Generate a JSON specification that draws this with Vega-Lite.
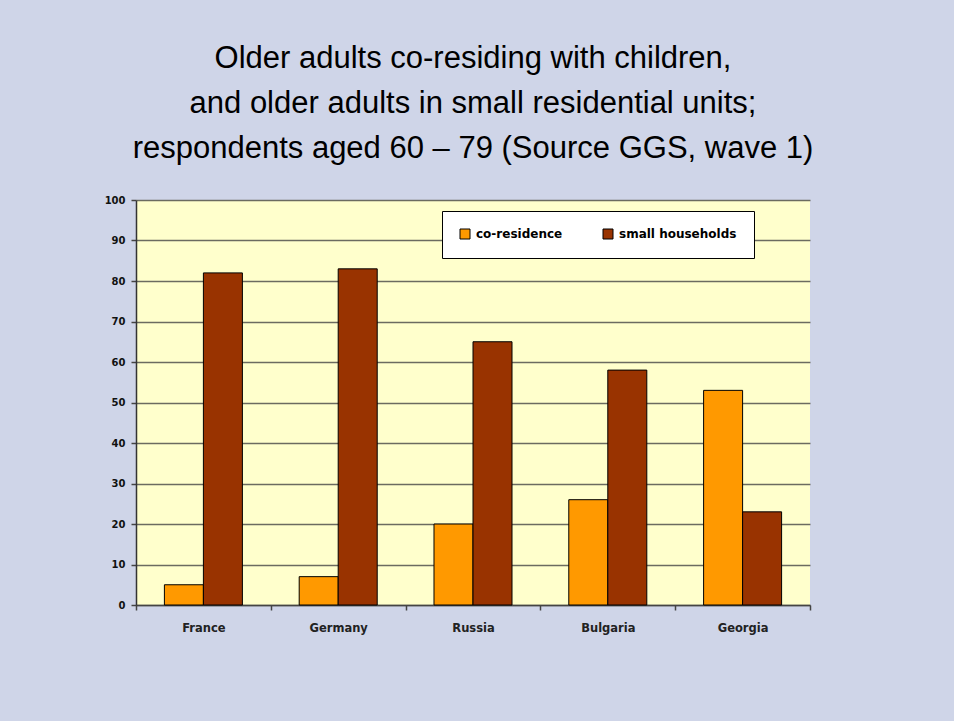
{
  "$schema": "https://vega.github.io/schema/vega-lite/v6.json",
  "autosize": "none",
  "width": 674,
  "height": 405,
  "padding": {"left": 136, "top": 200, "right": 144, "bottom": 116},
  "background": "#cfd5e8",
  "title": {
    "text": ["Older adults co-residing with children,", "and older adults in small residential units;", "respondents aged 60 – 79 (Source GGS, wave 1)"],
    "font": "Liberation Sans",
    "fontSize": 31,
    "fontWeight": "normal",
    "color": "#000000",
    "lineHeight": 45,
    "anchor": "middle",
    "frame": "group",
    "offset": 30
  },
  "data": {
    "values": [
      {"country": "France", "series": "co-residence", "value": 5},
      {"country": "France", "series": "small households", "value": 82},
      {"country": "Germany", "series": "co-residence", "value": 7},
      {"country": "Germany", "series": "small households", "value": 83},
      {"country": "Russia", "series": "co-residence", "value": 20},
      {"country": "Russia", "series": "small households", "value": 65},
      {"country": "Bulgaria", "series": "co-residence", "value": 26},
      {"country": "Bulgaria", "series": "small households", "value": 58},
      {"country": "Georgia", "series": "co-residence", "value": 53},
      {"country": "Georgia", "series": "small households", "value": 23}
    ]
  },
  "mark": {"type": "bar", "stroke": "#000000", "strokeWidth": 1},
  "encoding": {
    "x": {
      "field": "country",
      "type": "nominal",
      "sort": ["France", "Germany", "Russia", "Bulgaria", "Georgia"],
      "scale": {"paddingInner": 0, "paddingOuter": 0},
      "axis": {
        "title": null,
        "labelAngle": 0,
        "tickBand": "extent",
        "ticks": true,
        "tickSize": 5,
        "tickColor": "#444444",
        "tickWidth": 1.5,
        "domainColor": "#444444",
        "domainWidth": 1.5,
        "labelFont": "DejaVu Sans",
        "labelFontWeight": "bold",
        "labelFontSize": 11.5,
        "labelColor": "#222222",
        "labelPadding": 12,
        "grid": false
      }
    },
    "xOffset": {
      "field": "series",
      "type": "nominal",
      "sort": ["co-residence", "small households"],
      "scale": {"paddingInner": 0, "paddingOuter": 0.728}
    },
    "y": {
      "field": "value",
      "type": "quantitative",
      "scale": {"domain": [0, 100]},
      "axis": {
        "title": null,
        "values": [0, 10, 20, 30, 40, 50, 60, 70, 80, 90, 100],
        "grid": true,
        "gridColor": "#6b6b60",
        "gridWidth": 1.5,
        "tickSize": 5,
        "tickColor": "#444444",
        "tickWidth": 1.5,
        "domainColor": "#333333",
        "domainWidth": 1.5,
        "labelFont": "DejaVu Sans",
        "labelFontWeight": "bold",
        "labelFontSize": 10,
        "labelColor": "#111111",
        "labelPadding": 6
      }
    },
    "color": {
      "field": "series",
      "type": "nominal",
      "sort": ["co-residence", "small households"],
      "scale": {"domain": ["co-residence", "small households"], "range": ["#ff9900", "#993300"]},
      "legend": {
        "title": null,
        "orient": "none",
        "direction": "horizontal",
        "legendX": 306,
        "legendY": 11,
        "padding": 17,
        "fillColor": "#ffffff",
        "strokeColor": "#000000",
        "cornerRadius": 0,
        "symbolType": "square",
        "symbolSize": 100,
        "symbolStrokeColor": "#000000",
        "symbolStrokeWidth": 1,
        "labelFont": "DejaVu Sans",
        "labelFontWeight": "bold",
        "labelFontSize": 12,
        "labelColor": "#000000",
        "labelOffset": 5,
        "columnPadding": 38,
        "labelLimit": 300
      }
    }
  },
  "config": {
    "view": {"fill": "#ffffcc", "stroke": null}
  }
}
